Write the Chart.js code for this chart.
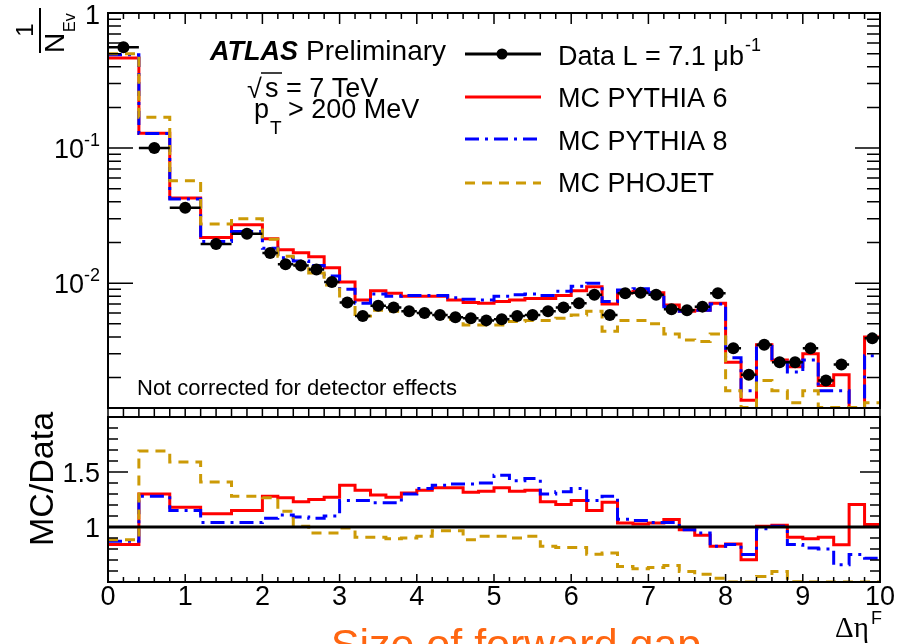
<!DOCTYPE html>
<html>
<head>
<meta charset="utf-8">
<title>Size of forward gap</title>
<script src="https://cdn.jsdelivr.net/npm/chart.js@4.4.1/dist/chart.umd.min.js"></script>
<style>
  html, body { margin: 0; padding: 0; background: #fff; }
  #wrap { position: relative; width: 900px; height: 644px; overflow: hidden; }
  #wrap canvas { position: absolute; left: 0; top: 0; }
</style>
</head>
<body>
<div id="wrap">
  <canvas id="topChart" width="900" height="644"></canvas>
  <canvas id="ratioChart" width="900" height="644"></canvas>
</div>
<script>
// --- DATA ---

// bin edges in delta eta F (first five bins are 0.4 wide, the rest 0.2)
const binEdges = [0, 0.4, 0.8, 1.2, 1.6, 2.0, 2.2, 2.4, 2.6, 2.8, 3.0,
  3.2, 3.4, 3.6, 3.8, 4.0, 4.2, 4.4, 4.6, 4.8, 5.0,
  5.2, 5.4, 5.6, 5.8, 6.0, 6.2, 6.4, 6.6, 6.8, 7.0,
  7.2, 7.4, 7.6, 7.8, 8.0, 8.2, 8.4, 8.6, 8.8, 9.0,
  9.2, 9.4, 9.6, 9.8, 10];

// 1/N dN/d(delta eta), one value per bin
const dataValues = [0.557, 0.100, 0.0362, 0.0195, 0.0232,
  0.0167, 0.0138, 0.0135, 0.0126, 0.0102,
  0.0072, 0.0057, 0.0068, 0.0066, 0.0062,
  0.0060, 0.0058, 0.0056, 0.0055, 0.0053,
  0.0054, 0.0057, 0.0058, 0.0062, 0.0066,
  0.0071, 0.0082, 0.0058, 0.0084, 0.0085,
  0.0082, 0.0064, 0.0063, 0.0067, 0.0084,
  0.0033, 0.0021, 0.0035, 0.0026, 0.0026,
  0.0033, 0.0019, 0.0025, null, 0.0039];

const pythia6Values = [0.464, 0.129, 0.0427, 0.0218, 0.0271,
  0.0213, 0.0177, 0.0168, 0.0157, 0.0130,
  0.0102, 0.0075, 0.0088, 0.0084, 0.0080,
  0.0080, 0.0080, 0.0075, 0.0072, 0.0071,
  0.0073, 0.0075, 0.0077, 0.0077, 0.0081,
  0.0088, 0.0094, 0.0070, 0.0085, 0.0087,
  0.0085, 0.0069, 0.0062, 0.0063, 0.0071,
  0.0026, 0.00136, 0.0035, 0.0027, 0.0024,
  0.0030, 0.00175, 0.0021, 0.0005, 0.0040];

const pythia8Values = [0.49, 0.128, 0.042, 0.0203, 0.0241,
  0.0181, 0.0154, 0.0146, 0.0135, 0.0113,
  0.0090, 0.0071, 0.0083, 0.0080, 0.0081,
  0.0081, 0.0081, 0.0078, 0.0076, 0.0075,
  0.0080, 0.0082, 0.0083, 0.0081, 0.0087,
  0.0095, 0.0100, 0.0073, 0.0089, 0.0091,
  0.0085, 0.0067, 0.0062, 0.0063, 0.0070,
  0.0028, 0.0016, 0.0034, 0.0026, 0.0022,
  0.0027, 0.0016, 0.0016, 0.0005, 0.0029];

const phojetValues = [0.50, 0.169, 0.0573, 0.0274, 0.030,
  0.0211, 0.0158, 0.0136, 0.0119, 0.0097,
  0.0073, 0.0057, 0.0063, 0.0062, 0.0060,
  0.0059, 0.0057, 0.0054, 0.0049, 0.0049,
  0.0049, 0.0052, 0.0053, 0.0053, 0.0055,
  0.0058, 0.0062, 0.0044, 0.0053, 0.0053,
  0.0050, 0.0042, 0.0038, 0.0037, 0.0042,
  0.0016, 0.0012, 0.0019, 0.0016, 0.0013,
  0.0016, 0.0012, 0.0012, 0.0012, 0.0013];

// MC/Data ratios, one value per bin
const ratioPythia6 = [0.84, 1.30, 1.18, 1.12, 1.15,
  1.28, 1.265, 1.23, 1.25, 1.27,
  1.38, 1.335, 1.29, 1.27, 1.31,
  1.335, 1.357, 1.357, 1.317, 1.326,
  1.357, 1.326, 1.335, 1.229, 1.205,
  1.241, 1.15, 1.226, 1.037, 1.028,
  1.037, 1.068, 0.976, 0.924, 0.824,
  0.845, 0.702, 1.006, 1.016, 0.906,
  0.894, 0.906, 0.839, 1.205, 1.022];

const ratioPythia8 = [0.87, 1.28, 1.15, 1.04, 1.04,
  1.08, 1.11, 1.09, 1.08, 1.10,
  1.24, 1.24, 1.22, 1.22, 1.30,
  1.35, 1.38, 1.39, 1.39, 1.40,
  1.47, 1.42, 1.44, 1.30, 1.32,
  1.35, 1.24, 1.28, 1.07, 1.06,
  1.04, 1.04, 0.976, 0.945, 0.824,
  0.84, 0.75, 0.985, 1.006, 0.84,
  0.81, 0.80, 0.656, 0.75, 0.717];

const ratioPhojet = [0.885, 1.69, 1.59, 1.41, 1.28,
  1.265, 1.144, 1.006, 0.945, 0.945,
  0.99, 0.906, 0.906, 0.894, 0.90,
  0.915, 0.967, 0.967, 0.885, 0.915,
  0.915, 0.90, 0.915, 0.824, 0.814,
  0.814, 0.753, 0.763, 0.641, 0.62,
  0.632, 0.65, 0.595, 0.57, 0.534,
  0.50, 0.50, 0.55, 0.595, 0.503,
  0.50, 0.50, 0.50, 0.50, 0.50];

const unityRatio = 1;

// axis ranges and tick labels
const xRange = [0, 10];
const topRange = [0.00119, 1];
const ratioRange = [0.5, 2.0];
const xTickLabels = ['0', '1', '2', '3', '4', '5', '6', '7', '8', '9', '10'];
const topTickLabels = [[1, '1', ''], [0.1, '10', '-1'], [0.01, '10', '-2']];
const ratioTickLabels = [[1, '1'], [1.5, '1.5']];

// --- STYLE ---
const SANS = "'Liberation Sans', Arial, Helvetica, sans-serif";
const SERIF = "'Liberation Serif', 'Times New Roman', serif";
const RED = '#ff0000';
const BLUE = '#0000ff';
const GOLD = '#cc9a06';
const DASH_BLUE = [14, 6, 3, 6];
const DASH_GOLD = [10, 7];

// --- HELPERS ---

// step histogram: one point per left edge, plus the closing right edge
function histPoints(values) {
  const pts = values.map((v, i) => ({ x: binEdges[i], y: v }));
  pts.push({ x: binEdges[binEdges.length - 1], y: values[values.length - 1] });
  return pts;
}

// horizontal error bars across each bin, broken with nulls
function binBars(values) {
  const pts = [];
  values.forEach((v, i) => {
    if (v === null) return;
    pts.push({ x: binEdges[i], y: v }, { x: binEdges[i + 1], y: v }, { x: binEdges[i + 1], y: null });
  });
  return pts;
}

function binCenters(values) {
  const pts = [];
  values.forEach((v, i) => {
    if (v === null) return;
    pts.push({ x: (binEdges[i] + binEdges[i + 1]) / 2, y: v });
  });
  return pts;
}

function histDataset(label, values, color, dash) {
  return {
    label: label,
    data: histPoints(values),
    stepped: true,
    borderColor: color,
    borderWidth: 3,
    borderDash: dash || [],
    pointRadius: 0,
    fill: false
  };
}

function rotText(ctx, text, x, y, font, align) {
  ctx.save();
  ctx.translate(x, y);
  ctx.rotate(-Math.PI / 2);
  ctx.font = font;
  ctx.textAlign = align;
  ctx.fillText(text, 0, 0);
  ctx.restore();
}

function legendLine(ctx, y, color, dash) {
  ctx.save();
  ctx.strokeStyle = color;
  ctx.lineWidth = 3;
  ctx.setLineDash(dash || []);
  ctx.beginPath();
  ctx.moveTo(465, y);
  ctx.lineTo(541, y);
  ctx.stroke();
  ctx.restore();
}

// --- DECORATION PLUGINS (frame, inward ticks, texts) ---

const topDecor = {
  id: 'topDecor',
  afterDraw(chart) {
    const ctx = chart.ctx;
    const a = chart.chartArea;
    const xs = chart.scales.x;
    const ys = chart.scales.y;
    ctx.save();
    ctx.strokeStyle = '#000';
    ctx.fillStyle = '#000';

    // x ticks on the top edge, and the tick ladder down to the ratio pad
    ctx.lineWidth = 1.5;
    ctx.beginPath();
    for (let i = 0; i <= 50; i++) {
      const px = xs.getPixelForValue(i * 0.2);
      const len = i % 5 === 0 ? 11 : 6;
      ctx.moveTo(px, a.top);
      ctx.lineTo(px, a.top + len);
      ctx.moveTo(px, a.bottom);
      ctx.lineTo(px, a.bottom + 9);
    }
    // log y ticks on both sides
    for (let e = -3; e <= 0; e++) {
      for (let k = 1; k <= 9; k++) {
        const v = k * Math.pow(10, e);
        if (v < topRange[0] || v > topRange[1] * 1.0001) continue;
        const py = ys.getPixelForValue(v);
        const len = k === 1 ? 25 : 13;
        ctx.moveTo(a.left, py);
        ctx.lineTo(a.left + len, py);
        ctx.moveTo(a.right, py);
        ctx.lineTo(a.right - len, py);
      }
    }
    ctx.stroke();

    ctx.lineWidth = 2;
    ctx.strokeRect(a.left, a.top, a.right - a.left, a.bottom - a.top);

    // y tick labels
    ctx.textAlign = 'right';
    ctx.textBaseline = 'alphabetic';
    topTickLabels.forEach(([v, base, sup]) => {
      const py = ys.getPixelForValue(v);
      if (!sup) {
        ctx.font = '27px ' + SANS;
        ctx.fillText(base, 100, Math.max(py + 10, 24));
        return;
      }
      ctx.font = '18px ' + SANS;
      const supW = ctx.measureText(sup).width;
      ctx.fillText(sup, 100, py - 2);
      ctx.font = '27px ' + SANS;
      ctx.fillText(base, 100 - supW, py + 10);
    });

    // y title: 1 / N_Ev (rotated fraction)
    rotText(ctx, '1', 33, 30, '24px ' + SANS, 'center');
    ctx.lineWidth = 2;
    ctx.beginPath();
    ctx.moveTo(40, 8);
    ctx.lineTo(40, 53);
    ctx.stroke();
    rotText(ctx, 'N', 64, 53, '28px ' + SANS, 'left');
    rotText(ctx, 'Ev', 75, 32, '16px ' + SANS, 'left');

    // ATLAS label
    ctx.textAlign = 'left';
    ctx.font = 'italic bold 27px ' + SANS;
    ctx.fillText('ATLAS', 210, 60);
    ctx.font = '28px ' + SANS;
    ctx.fillText('Preliminary', 306, 60);

    ctx.font = '27px ' + SANS;
    ctx.fillText('\u221A', 247, 98);
    ctx.lineWidth = 1.5;
    ctx.beginPath();
    ctx.moveTo(261, 73);
    ctx.lineTo(282, 73);
    ctx.stroke();
    ctx.fillText('s = 7 TeV', 265, 97);

    ctx.fillText('p', 254, 118);
    ctx.font = '19px ' + SANS;
    ctx.fillText('T', 270, 134);
    ctx.font = '27px ' + SANS;
    ctx.fillText('> 200 MeV', 288, 118);

    ctx.font = '22px ' + SANS;
    ctx.fillText('Not corrected for detector effects', 137, 395);

    // legend
    legendLine(ctx, 54, '#000');
    ctx.beginPath();
    ctx.arc(502, 54, 5.5, 0, Math.PI * 2);
    ctx.fill();
    legendLine(ctx, 97, RED);
    legendLine(ctx, 139, BLUE, DASH_BLUE);
    legendLine(ctx, 183, GOLD, DASH_GOLD);

    ctx.fillStyle = '#000';
    ctx.font = '27px ' + SANS;
    const dataLabel = 'Data L = 7.1 \u03BCb';
    ctx.fillText(dataLabel, 558, 65);
    const dw = ctx.measureText(dataLabel).width;
    ctx.font = '18px ' + SANS;
    ctx.fillText('-1', 558 + dw + 1, 51);
    ctx.font = '27px ' + SANS;
    ctx.fillText('MC PYTHIA 6', 558, 107);
    ctx.fillText('MC PYTHIA 8', 558, 150);
    ctx.fillText('MC PHOJET', 558, 192);
    ctx.restore();
  }
};

const ratioDecor = {
  id: 'ratioDecor',
  afterDraw(chart) {
    const ctx = chart.ctx;
    const a = chart.chartArea;
    const xs = chart.scales.x;
    const ys = chart.scales.y;
    ctx.save();
    ctx.strokeStyle = '#000';
    ctx.fillStyle = '#000';

    ctx.lineWidth = 1.5;
    ctx.beginPath();
    for (let i = 0; i <= 50; i++) {
      const px = xs.getPixelForValue(i * 0.2);
      const len = i % 5 === 0 ? 8 : 5;
      ctx.moveTo(px, a.bottom);
      ctx.lineTo(px, a.bottom - len);
    }
    for (let i = 5; i <= 20; i++) {
      const py = ys.getPixelForValue(i / 10);
      const len = i % 5 === 0 ? 20 : 10;
      ctx.moveTo(a.left, py);
      ctx.lineTo(a.left + len, py);
      ctx.moveTo(a.right, py);
      ctx.lineTo(a.right - len, py);
    }
    ctx.stroke();

    ctx.lineWidth = 2;
    ctx.strokeRect(a.left, a.top, a.right - a.left, a.bottom - a.top);

    // tick labels
    ctx.font = '27px ' + SANS;
    ctx.textAlign = 'right';
    ratioTickLabels.forEach(([v, txt]) => {
      ctx.fillText(txt, 100, ys.getPixelForValue(v) + 10);
    });
    ctx.textAlign = 'center';
    xTickLabels.forEach((txt, i) => {
      ctx.fillText(txt, xs.getPixelForValue(i), 605);
    });

    rotText(ctx, 'MC/Data', 53, 479, '34px ' + SANS, 'center');

    // x title
    ctx.textAlign = 'left';
    ctx.font = '29px ' + SERIF;
    ctx.fillText('\u0394\u03B7', 835, 637);
    ctx.font = '18px ' + SANS;
    ctx.fillText('F', 871, 624);

    ctx.fillStyle = '#ff6611';
    ctx.font = '43px ' + SANS;
    ctx.textAlign = 'center';
    ctx.fillText('Size of forward gap', 516, 659);
    ctx.restore();
  }
};

// --- CHARTS ---

const commonOptions = (padding, yScale) => ({
  responsive: false,
  animation: false,
  events: [],
  layout: { padding: padding },
  scales: {
    x: { type: 'linear', min: xRange[0], max: xRange[1], display: false },
    y: yScale
  },
  plugins: { legend: { display: false }, tooltip: { enabled: false } },
  elements: { line: { tension: 0 } }
});

new Chart(document.getElementById('topChart'), {
  type: 'line',
  data: {
    datasets: [
      {
        label: 'Data',
        data: binCenters(dataValues),
        showLine: false,
        pointRadius: 6,
        pointBackgroundColor: '#000',
        pointBorderWidth: 0
      },
      {
        label: 'Data bin width',
        data: binBars(dataValues),
        borderColor: '#000',
        borderWidth: 2.5,
        pointRadius: 0,
        spanGaps: false
      },
      histDataset('MC PHOJET', phojetValues, GOLD, DASH_GOLD),
      histDataset('MC PYTHIA 8', pythia8Values, BLUE, DASH_BLUE),
      histDataset('MC PYTHIA 6', pythia6Values, RED)
    ]
  },
  options: commonOptions({ left: 108, right: 20, top: 13, bottom: 236 },
    { type: 'logarithmic', min: topRange[0], max: topRange[1], display: false }),
  plugins: [topDecor]
});

new Chart(document.getElementById('ratioChart'), {
  type: 'line',
  data: {
    datasets: [
      {
        label: 'unity',
        data: [{ x: xRange[0], y: unityRatio }, { x: xRange[1], y: unityRatio }],
        borderColor: '#000',
        borderWidth: 3,
        pointRadius: 0
      },
      histDataset('MC PHOJET', ratioPhojet, GOLD, DASH_GOLD),
      histDataset('MC PYTHIA 8', ratioPythia8, BLUE, DASH_BLUE),
      histDataset('MC PYTHIA 6', ratioPythia6, RED)
    ]
  },
  options: commonOptions({ left: 108, right: 20, top: 417, bottom: 62 },
    { type: 'linear', min: ratioRange[0], max: ratioRange[1], display: false }),
  plugins: [ratioDecor]
});
</script>
</body>
</html>
